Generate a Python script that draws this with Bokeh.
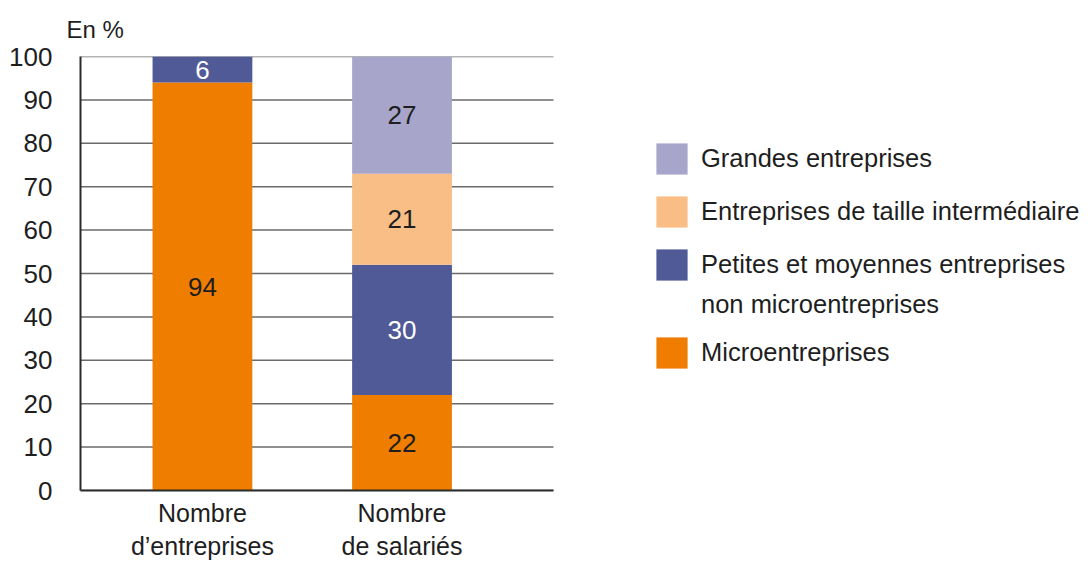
from bokeh.plotting import figure
from bokeh.models import ColumnDataSource, Range1d, FixedTicker, Legend, LegendItem
from bokeh.core.properties import value
from bokeh.embed import file_html
from bokeh.resources import INLINE

categories = ["Nombre\nd\u2019entreprises", "Nombre\nde salari\u00e9s"]
series_names = ["Microentreprises", "Petites et moyennes entreprises\nnon microentreprises",
                "Entreprises de taille interm\u00e9diaire", "Grandes entreprises"]
micro = [94, 22]
pme = [6, 30]
eti = [0, 21]
ge = [0, 27]
colors = ["#EF7D00", "#4F5A97", "#F8BE86", "#A7A6CA"]
label_colors = ["#1E1E1E", "#FFFFFF", "#1E1E1E", "#1E1E1E"]
y_ticks = list(range(0, 101, 10))

FONT = "'Liberation Sans', Arial, sans-serif"
TXT = "#1E1E1E"

# layout: chart area spans x in [X0, X1]; the frame extends further right for the legend
W, H = 1082, 566
LEFT, TOP, BOTTOM = 80, 56, 76
X0, X1 = -0.111, 2.259
px_per_unit = 473 / (X1 - X0)
frame_w = W - LEFT
XR = X0 + frame_w / px_per_unit

xs = [i + 0.5 for i in range(len(categories))]
keys = ["micro", "pme", "eti", "ge"]
data = dict(x=xs, micro=micro, pme=pme, eti=eti, ge=ge)
source = ColumnDataSource(data)

p = figure(width=W, height=H, output_backend="svg", toolbar_location=None,
           x_range=Range1d(X0, XR), y_range=Range1d(0, 100),
           min_border_left=LEFT, min_border_right=0, min_border_top=TOP,
           min_border_bottom=BOTTOM, title="En %")
p.title.text_font = FONT
p.title.text_font_size = "24px"
p.title.text_font_style = "normal"
p.title.text_color = TXT
p.title.text_line_height = 1.0
p.title.offset = -14
p.title.standoff = 27
p.outline_line_color = None
p.xgrid.grid_line_color = None
p.ygrid.grid_line_color = None

# horizontal grid lines limited to the chart area
p.segment(x0=[X0] * len(y_ticks), x1=[X1] * len(y_ticks), y0=y_ticks, y1=y_ticks,
          line_color="#6A6A6A", line_width=1.5, level="underlay")

renderers = p.vbar_stack(keys, x="x", width=0.5, color=colors, source=source,
                         line_color=None)

# segment labels
lx, ly, lt, lc = [], [], [], []
for i in range(len(categories)):
    base = 0
    for k, col in zip(keys, label_colors):
        v = data[k][i]
        if v > 0:
            lx.append(xs[i]); ly.append(base + v / 2); lt.append(str(v)); lc.append(col)
        base += v
p.text(x=lx, y=ly, text=lt, text_color=lc, text_align="center", text_baseline="middle",
       text_font_size="26px", text_font=value(FONT))

p.yaxis.ticker = FixedTicker(ticks=y_ticks)
p.yaxis.major_tick_line_color = None
p.yaxis.minor_tick_line_color = None
p.yaxis.axis_line_color = "#2A2A2A"
p.yaxis.axis_line_width = 2
p.yaxis.major_label_standoff = 22
p.yaxis.major_label_text_font = FONT
p.yaxis.major_label_text_font_size = "26px"
p.yaxis.major_label_text_color = TXT

p.xaxis.ticker = FixedTicker(ticks=xs)
p.xaxis.bounds = (X0, X1)
p.xaxis.major_label_overrides = {x: c for x, c in zip(xs, categories)}
p.xaxis.major_tick_line_color = None
p.xaxis.minor_tick_line_color = None
p.xaxis.axis_line_color = "#2A2A2A"
p.xaxis.axis_line_width = 2
p.xaxis.major_label_standoff = 2
p.xaxis.major_label_text_font = FONT
p.xaxis.major_label_text_font_size = "25px"
p.xaxis.major_label_text_color = TXT

# legend (second line of the PME label carried by a glyph-less entry)
blank = p.scatter(x=[], y=[], fill_alpha=0, line_alpha=0)
pme_lines = series_names[1].split("\n")
leg_style = dict(orientation="vertical", glyph_width=39, glyph_height=39,
                 label_text_font=FONT, label_text_font_size="25.5px",
                 label_text_color=TXT, padding=0, margin=0, label_standoff=10,
                 border_line_color=None, background_fill_alpha=0)
legend_a = Legend(items=[LegendItem(label=series_names[3], renderers=[renderers[3]]),
                         LegendItem(label=series_names[2], renderers=[renderers[2]]),
                         LegendItem(label=pme_lines[0], renderers=[renderers[1]])],
                  location=(572, 206), spacing=14, **leg_style)
legend_b = Legend(items=[LegendItem(label=pme_lines[1], renderers=[blank]),
                         LegendItem(label=series_names[0], renderers=[renderers[0]])],
                  location=(572, 118), spacing=9, **leg_style)
p.add_layout(legend_a, "center")
p.add_layout(legend_b, "center")

open("out.html", "w").write(file_html(p, INLINE))
